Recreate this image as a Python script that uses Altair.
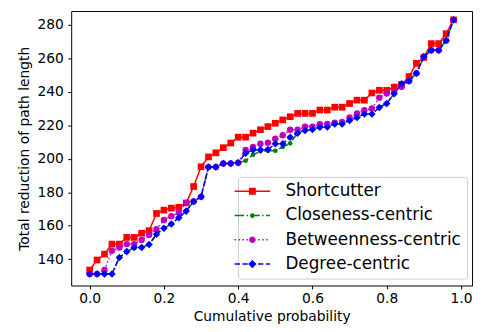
import altair as alt
import pandas as pd

# ---------------- data ----------------
x_vals = [0.00, 0.02, 0.04, 0.06, 0.08, 0.10, 0.12, 0.14, 0.16, 0.18,
          0.20, 0.22, 0.24, 0.26, 0.28, 0.30, 0.32, 0.34, 0.36, 0.38,
          0.40, 0.42, 0.44, 0.46, 0.48, 0.50, 0.52, 0.54, 0.56, 0.58,
          0.60, 0.62, 0.64, 0.66, 0.68, 0.70, 0.72, 0.74, 0.76, 0.78,
          0.80, 0.82, 0.84, 0.86, 0.88, 0.90, 0.92, 0.94, 0.96, 0.98]

shortcutter = [133.5, 139.5, 143.0, 149.0, 149.0, 153.0, 153.0, 155.5, 157.0, 167.3,
               169.3, 170.5, 171.0, 173.6, 183.4, 195.2, 201.1, 203.5, 206.6, 209.4,
               212.9, 212.9, 215.3, 217.3, 219.2, 221.2, 223.2, 225.1, 227.1, 227.1,
               227.1, 229.1, 229.1, 230.8, 230.8, 233.0, 235.0, 235.0, 239.3, 240.9,
               240.9, 242.8, 244.4, 249.1, 257.0, 260.5, 268.8, 268.8, 274.7, 283.0]

closeness = [131.1, 131.1, 131.1, 131.1, 141.0, 144.5, 147.0, 147.0, 148.7, 154.9,
             158.4, 161.0, 164.8, 168.7, 174.5, 177.3, 195.0, 195.1, 197.2, 197.2,
             197.6, 198.8, 202.4, 204.5, 204.7, 204.8, 207.0, 209.2, 215.3, 216.9,
             217.5, 218.8, 219.0, 220.8, 220.8, 222.8, 224.7, 226.7, 226.7, 230.6,
             233.0, 238.9, 244.8, 246.4, 251.1, 260.9, 264.8, 264.8, 270.7, 283.0]

betweenness = [131.1, 131.1, 133.5, 145.0, 147.0, 149.0, 149.0, 151.5, 154.5, 157.9,
               163.4, 165.7, 167.7, 173.6, 174.5, 177.3, 195.0, 195.1, 197.2, 197.2,
               197.6, 205.3, 207.0, 209.0, 209.6, 212.0, 214.0, 217.3, 217.3, 219.2,
               219.2, 220.6, 220.8, 221.5, 222.0, 224.7, 227.0, 229.0, 230.0, 236.5,
               239.0, 240.0, 243.0, 246.4, 251.1, 260.9, 264.8, 264.8, 270.7, 283.0]

degree = [131.1, 131.1, 131.1, 131.1, 141.0, 144.5, 147.0, 147.0, 148.7, 154.9,
          158.4, 161.0, 164.8, 168.7, 174.5, 177.3, 195.0, 195.1, 197.2, 197.2,
          197.6, 203.3, 205.3, 205.3, 205.5, 209.0, 209.0, 212.9, 215.3, 216.9,
          217.5, 218.8, 219.0, 220.8, 220.8, 222.8, 224.7, 226.7, 226.7, 230.6,
          233.0, 238.9, 244.8, 246.4, 251.1, 260.9, 264.8, 264.8, 270.7, 283.0]

series_names = ["Shortcutter", "Closeness-centric", "Betweenness-centric", "Degree-centric"]
series_values = [shortcutter, closeness, betweenness, degree]

x_ticks = [0.0, 0.2, 0.4, 0.6, 0.8, 1.0]
y_ticks = [140, 160, 180, 200, 220, 240, 260, 280]

# ---------------- styles ----------------
colors = ["#ff0000", "#008000", "#bf00bf", "#0000ff"]
dashes = [[1, 0], [9.6, 2.4, 1.5, 2.4], [1.5, 2.5], [5.5, 2.4]]
shapes = ["square", "circle", "circle", "diamond"]
msizes = [46, 22, 42, 58]

rows = []
for name, vals in zip(series_names, series_values):
    for xv, yv in zip(x_vals, vals):
        rows.append({"p": xv, "v": yv, "series": name})
df = pd.DataFrame(rows)

# legend symbol paths (line with dash pattern + marker), units of 5px
S = 5.0
def rect(x0, x1, h=0.75):
    return f"M{x0/S:.3f},{-h/S:.3f}H{x1/S:.3f}V{h/S:.3f}H{x0/S:.3f}Z"

def dashed_line(pattern, x0=-18.0, x1=18.0):
    parts = []
    x = x0
    i = 0
    while x < x1:
        seg = pattern[i % len(pattern)]
        if i % 2 == 0:
            parts.append(rect(x, min(x + seg, x1)))
        x += seg
        i += 1
    return "".join(parts)

def square(a):
    a = a / S
    return f"M{-a:.3f},{-a:.3f}H{a:.3f}V{a:.3f}H{-a:.3f}Z"

def circle(r):
    r = r / S
    return f"M{r:.3f},0A{r:.3f},{r:.3f} 0 1,1 {-r:.3f},0A{r:.3f},{r:.3f} 0 1,1 {r:.3f},0Z"

def diamond(r):
    r = r / S
    return f"M0,{-r:.3f}L{r:.3f},0L0,{r:.3f}L{-r:.3f},0Z"

legend_paths = [
    rect(-18, 18) + square(3.5),
    dashed_line([9.6, 2.4, 1.5, 2.4]) + circle(2.4),
    dashed_line([1.5, 2.5]) + circle(3.3),
    dashed_line([5.5, 2.4]) + diamond(4.2),
]

x_scale = alt.Scale(domain=[-0.0497, 1.0298], nice=False, zero=False)
y_scale = alt.Scale(domain=[124.25, 288.26], nice=False, zero=False)

x_axis = alt.Axis(values=x_ticks, format=".1f", title="Cumulative probability",
                  grid=False, domain=False, tickSize=3.5, tickColor="black",
                  tickWidth=1, labelPadding=3, titlePadding=4)
y_axis = alt.Axis(values=y_ticks, title="Total reduction of path length",
                  grid=False, domain=False, tickSize=3.5, tickColor="black",
                  tickWidth=1, labelPadding=4.5, titlePadding=6)

base = alt.Chart(df)
layers = []
for i, name in enumerate(series_names):
    sub = base.transform_filter(alt.datum.series == name)
    enc = dict(x=alt.X("p:Q", scale=x_scale, axis=x_axis),
               y=alt.Y("v:Q", scale=y_scale, axis=y_axis))
    layers.append(sub.mark_line(color=colors[i], strokeWidth=1.5,
                                strokeDash=dashes[i]).encode(**enc))
    layers.append(sub.mark_point(shape=shapes[i], filled=True, color=colors[i],
                                 size=msizes[i], opacity=1).encode(**enc))

legend_df = pd.DataFrame({"series": series_names})
legend_layer = alt.Chart(legend_df).mark_point(filled=True, opacity=0).encode(
    color=alt.Color("series:N", scale=alt.Scale(domain=series_names, range=colors),
                    legend=alt.Legend(title=None)),
    shape=alt.Shape("series:N", scale=alt.Scale(domain=series_names, range=legend_paths),
                    legend=alt.Legend(title=None)),
)

chart = alt.layer(*layers, legend_layer).properties(
    width=406, height=278,
    padding={"left": 64, "top": 1, "right": 4, "bottom": 44},
    autosize=alt.AutoSizeParams(type="none"),
).configure_view(
    stroke="black", strokeWidth=1
).configure_axis(
    labelFont="DejaVu Sans", titleFont="DejaVu Sans",
    labelFontSize=14, titleFontSize=14, labelColor="black", titleColor="black",
    titleFontWeight="normal"
).configure_legend(
    orient="none", legendX=169, legendY=168,
    labelFont="DejaVu Sans", labelFontSize=17, labelColor="black", labelLimit=0,
    symbolSize=100, symbolOpacity=1, symbolStrokeWidth=0,
    padding=6, rowPadding=6.6, labelOffset=25,
    strokeColor="#cccccc", fillColor="white", cornerRadius=3,
)

chart.save("out.html", embed_options={"renderer": "svg", "actions": False})
